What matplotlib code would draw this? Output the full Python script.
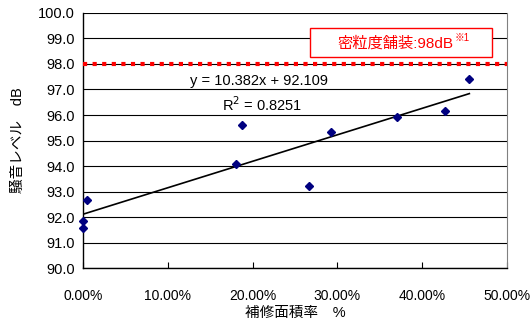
import matplotlib

matplotlib.use("Agg")
import matplotlib.pyplot as plt
from matplotlib.patches import Rectangle
import numpy as np

plt.rcParams["font.family"] = ["Liberation Sans", "Noto Sans CJK JP", "DejaVu Sans"]

# repair area ratio vs noise level
area_ratio = [0.000, 0.000, 0.005, 0.180, 0.1875, 0.267, 0.293, 0.370, 0.427, 0.4556]
noise_db = [91.85, 91.56, 92.67, 94.07, 95.61, 93.23, 95.32, 95.91, 96.16, 97.40]

slope, intercept = 10.382, 92.109
r2 = 0.8251
ref_level = 98.0

x_ticks = [0.0, 0.1, 0.2, 0.3, 0.4, 0.5]
x_labels = ["0.00%", "10.00%", "20.00%", "30.00%", "40.00%", "50.00%"]
y_ticks = np.arange(90, 101, 1)

fig = plt.figure(figsize=(5.31, 3.24), dpi=100)
ax = fig.add_axes([0.1563, 0.1728, 0.7985, 0.7871])

for yv in y_ticks:
    ax.axhline(yv, color="black", lw=0.8, zorder=1)

ax.axhline(ref_level, color="red", lw=3, linestyle=(0, (1, 1.3)),
           dash_capstyle="butt", zorder=3)

xs = np.array([min(area_ratio), max(area_ratio)])
ax.plot(xs, slope * xs + intercept, color="black", lw=1.2, zorder=4)

ax.plot(area_ratio, noise_db, linestyle="none", marker="D", markersize=4.5,
        color="#000080", zorder=5, clip_on=False)

ax.set_xlim(0, 0.5)
ax.set_ylim(90, 100)
ax.set_xticks(x_ticks)
ax.set_xticklabels(x_labels, fontsize=10)
ax.set_yticks(y_ticks)
ax.set_yticklabels([f"{v:.1f}" for v in y_ticks], fontsize=10.5)
ax.tick_params(axis="x", direction="in", length=4, pad=15)
ax.tick_params(axis="y", length=0, pad=6)

ax.spines["top"].set_visible(False)
ax.spines["right"].set_color("#808080")
ax.spines["left"].set_linewidth(1.0)
ax.spines["bottom"].set_linewidth(1.0)

ax.set_xlabel("補修面積率　%", fontsize=10.5, labelpad=2)
ax.set_ylabel("騒音レベル　dB", fontsize=10.5, labelpad=9)

ax.text(0.126, 97.35, f"y = {slope}x + {intercept}", fontsize=10.5,
        va="center", ha="left")
ax.text(0.164, 96.42, f"R$^2$ = {r2}", fontsize=10.5, va="center", ha="left")

# reference level label box
ax.add_patch(Rectangle((0.2677, 98.27), 0.2146, 1.14, facecolor="white",
                       edgecolor="red", lw=1.0, zorder=6))
main = ax.text(0.2995, 98.80, "密粒度舗装:98dB", color="red", fontsize=11,
               ha="left", va="center", zorder=7)
ax.annotate("※1", xy=(1.0, 0.55), xycoords=main, xytext=(1, 0),
            textcoords="offset points", color="red", fontsize=7,
            ha="left", va="bottom", zorder=7)

fig.savefig("out.png", dpi=100)
